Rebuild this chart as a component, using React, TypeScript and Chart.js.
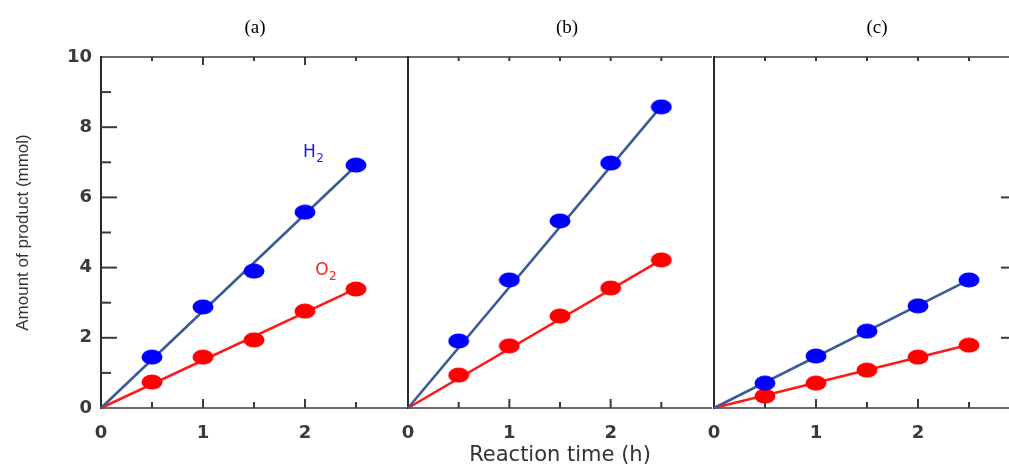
import React, { useEffect, useRef } from 'react';
import { Chart, registerables } from 'chart.js';

Chart.register(...registerables);

// ---------- data ----------
const timePoints = [0.5, 1, 1.5, 2, 2.5];
const fitTimes = [0, 2.5];
const xTickLabels = ['0', '1', '2'];
const yTickLabels = ['0', '2', '4', '6', '8', '10'];
const panelTitles = ['(a)', '(b)', '(c)'];
const yAxisTitle = 'Amount of product (mmol)';
const xAxisTitle = 'Reaction time (h)';

const h2A = [1.45, 2.88, 3.9, 5.58, 6.92];
const o2A = [0.74, 1.45, 1.94, 2.76, 3.39];
const h2B = [1.91, 3.65, 5.33, 6.98, 8.58];
const o2B = [0.94, 1.77, 2.62, 3.42, 4.22];
const h2C = [0.71, 1.48, 2.19, 2.91, 3.65];
const o2C = [0.34, 0.71, 1.08, 1.45, 1.79];

// straight lines from the origin to the fitted value at 2.5 h
const h2FitA = [0, 6.9];
const o2FitA = [0, 3.4];
const h2FitB = [0, 8.6];
const o2FitB = [0, 4.22];
const h2FitC = [0, 3.65];
const o2FitC = [0, 1.8];

// ---------- helpers ----------
function ellipseMarker(color: string): HTMLCanvasElement {
  const c = document.createElement('canvas');
  c.width = 22;
  c.height = 16;
  const ctx = c.getContext('2d')!;
  ctx.fillStyle = color;
  ctx.beginPath();
  ctx.ellipse(11, 8, 10.5, 7.5, 0, 0, Math.PI * 2);
  ctx.fill();
  return c;
}

const framePlugin = {
  id: 'panelFrame',
  beforeDatasetsDraw(chart: any, _args: any, opts: any) {
    const { ctx, chartArea } = chart;
    const xs = chart.scales.x;
    const ys = chart.scales.y;
    const { left, right, top, bottom } = chartArea;
    ctx.save();
    ctx.lineCap = 'butt';
    ctx.strokeStyle = '#6a6a6a';
    ctx.lineWidth = 2;
    ctx.beginPath();
    ctx.moveTo(left, top);
    ctx.lineTo(right, top);
    ctx.moveTo(left, bottom);
    ctx.lineTo(right, bottom);
    ctx.stroke();
    ctx.strokeStyle = '#2a2a2a';
    ctx.beginPath();
    ctx.moveTo(left, top - 1);
    ctx.lineTo(left, bottom + 1);
    ctx.stroke();
    ctx.strokeStyle = '#3a3a3a';
    for (let v = 0.5; v < 3; v += 0.5) {
      const px = xs.getPixelForValue(v);
      const major = Number.isInteger(v);
      ctx.beginPath();
      ctx.moveTo(px, bottom);
      ctx.lineTo(px, bottom - (major ? 9 : 6));
      ctx.moveTo(px, top);
      ctx.lineTo(px, top + (major && opts.topMajor ? 8 : 4));
      ctx.stroke();
    }
    if (opts.leftTicks) {
      for (let v = 1; v < 10; v += 1) {
        const py = ys.getPixelForValue(v);
        const major = v % 2 === 0;
        ctx.beginPath();
        ctx.moveTo(left, py);
        ctx.lineTo(left + (major ? 16 : 10), py);
        ctx.stroke();
      }
    }
    if (opts.rightTicks) {
      for (const v of opts.rightTicks) {
        const py = ys.getPixelForValue(v);
        ctx.beginPath();
        ctx.moveTo(right, py);
        ctx.lineTo(right - 19, py);
        ctx.stroke();
      }
    }
    ctx.restore();
  },
  afterDatasetsDraw(chart: any, _args: any, opts: any) {
    if (!opts.labels) return;
    const { ctx } = chart;
    const xs = chart.scales.x;
    const ys = chart.scales.y;
    ctx.save();
    for (const lab of opts.labels) {
      const px = xs.getPixelForValue(lab.x);
      const py = ys.getPixelForValue(lab.y);
      ctx.fillStyle = lab.color;
      ctx.textAlign = 'left';
      ctx.textBaseline = 'alphabetic';
      ctx.font = '17px "DejaVu Sans"';
      ctx.fillText(lab.main, px, py);
      const w = ctx.measureText(lab.main).width;
      ctx.font = '12px "DejaVu Sans"';
      ctx.fillText(lab.sub, px + w + 0.5, py + 5);
    }
    ctx.restore();
  },
};

type PanelProps = {
  h2: number[];
  o2: number[];
  h2Fit: number[];
  o2Fit: number[];
  canvasLeft: number;
  width: number;
  padLeft: number;
  padRight: number;
  showY: boolean;
  showXTitle: boolean;
  rightTicks?: number[];
  labels?: any[];
  topMajor?: boolean;
};

function Panel(p: PanelProps) {
  const ref = useRef<HTMLCanvasElement | null>(null);
  useEffect(() => {
    if (!ref.current) return;
    const blue = ellipseMarker('#0000ff');
    const red = ellipseMarker('#ff0000');
    const pts = (arr: number[], xsArr: number[]) => xsArr.map((x, i) => ({ x, y: arr[i] }));
    const tickFont = { family: '"DejaVu Sans"', size: 18, weight: 'bold' as const };
    const chart = new Chart(ref.current, {
      type: 'scatter',
      data: {
        datasets: [
          { label: 'H2 points', data: pts(p.h2, timePoints), pointStyle: blue, pointRadius: 10, clip: false } as any,
          { label: 'O2 points', data: pts(p.o2, timePoints), pointStyle: red, pointRadius: 10, clip: false } as any,
          { label: 'H2 line', data: pts(p.h2Fit, fitTimes), showLine: true, pointRadius: 0, borderColor: '#3c5a96', borderWidth: 2.6, clip: false } as any,
          { label: 'O2 line', data: pts(p.o2Fit, fitTimes), showLine: true, pointRadius: 0, borderColor: '#ff1a1a', borderWidth: 2.6, clip: false } as any,
        ],
      },
      options: {
        animation: false,
        responsive: false,
        devicePixelRatio: 1,
        layout: { padding: { top: 57, left: p.padLeft, right: p.padRight, bottom: 0 } },
        plugins: {
          legend: { display: false },
          tooltip: { enabled: false },
          panelFrame: { leftTicks: p.showY, rightTicks: p.rightTicks, labels: p.labels, topMajor: p.topMajor },
        } as any,
        scales: {
          x: {
            type: 'linear',
            min: 0,
            max: 3,
            grid: { display: false, drawTicks: false },
            border: { display: false },
            ticks: {
              stepSize: 1,
              autoSkip: false,
              maxRotation: 0,
              padding: 15,
              color: '#3a3a3a',
              font: tickFont,
              callback: (v: any) => xTickLabels[v] ?? '',
            },
            title: {
              display: p.showXTitle,
              text: xAxisTitle,
              color: '#333333',
              font: { family: '"DejaVu Sans"', size: 21, lineHeight: 1 },
              padding: 0,
            },
            afterFit: (s: any) => {
              s.height = 58;
              s.paddingLeft = 0;
              s.paddingRight = 0;
            },
          },
          y: {
            type: 'linear',
            display: p.showY,
            min: 0,
            max: 10,
            grid: { display: false, drawTicks: false },
            border: { display: false },
            ticks: {
              stepSize: 2,
              padding: 9,
              color: '#3a3a3a',
              font: tickFont,
              callback: (v: any) => yTickLabels[v / 2] ?? '',
            },
            title: {
              display: p.showY,
              text: yAxisTitle,
              color: '#333333',
              font: { family: '"Liberation Sans"', size: 17 },
              padding: { top: 13, bottom: 0 },
            },
            afterFit: (s: any) => {
              s.width = p.showY ? 101 : 0;
              s.paddingTop = 0;
              s.paddingBottom = 0;
            },
          },
        },
      },
      plugins: [framePlugin],
    } as any);
    return () => chart.destroy();
  }, []);
  return (
    <canvas
      ref={ref}
      width={p.width}
      height={466}
      style={{ position: 'absolute', left: p.canvasLeft, top: 0, width: p.width, height: 466 }}
    />
  );
}

const titleX = [255, 567, 877];

export default function App() {
  return (
    <div
      style={{
        position: 'fixed',
        left: 0,
        top: 0,
        width: 1009,
        height: 466,
        overflow: 'hidden',
        background: '#ffffff',
      }}
    >
      <Panel
        h2={h2A}
        o2={o2A}
        h2Fit={h2FitA}
        o2Fit={o2FitA}
        canvasLeft={0}
        width={420}
        padLeft={0}
        padRight={13}
        showY={true}
        showXTitle={false}
        topMajor={true}
        labels={[
          { x: 1.98, y: 7.15, main: 'H', sub: '2', color: '#1a1aff' },
          { x: 2.1, y: 3.8, main: 'O', sub: '2', color: '#ff2020' },
        ]}
      />
      <Panel
        h2={h2B}
        o2={o2B}
        h2Fit={h2FitB}
        o2Fit={o2FitB}
        canvasLeft={397}
        width={326}
        padLeft={10}
        padRight={10}
        showY={false}
        showXTitle={true}
      />
      <Panel
        h2={h2C}
        o2={o2C}
        h2Fit={h2FitC}
        o2Fit={o2FitC}
        canvasLeft={703}
        width={330}
        padLeft={10}
        padRight={13}
        showY={false}
        showXTitle={false}
        rightTicks={[2, 4, 6]}
      />
      {panelTitles.map((t, i) => (
        <div
          key={t}
          style={{
            position: 'absolute',
            left: titleX[i],
            top: 17,
            transform: 'translateX(-50%)',
            fontFamily: '"Liberation Serif", serif',
            fontSize: 19,
            lineHeight: '20px',
            color: '#000',
          }}
        >
          {t}
        </div>
      ))}
    </div>
  );
}
